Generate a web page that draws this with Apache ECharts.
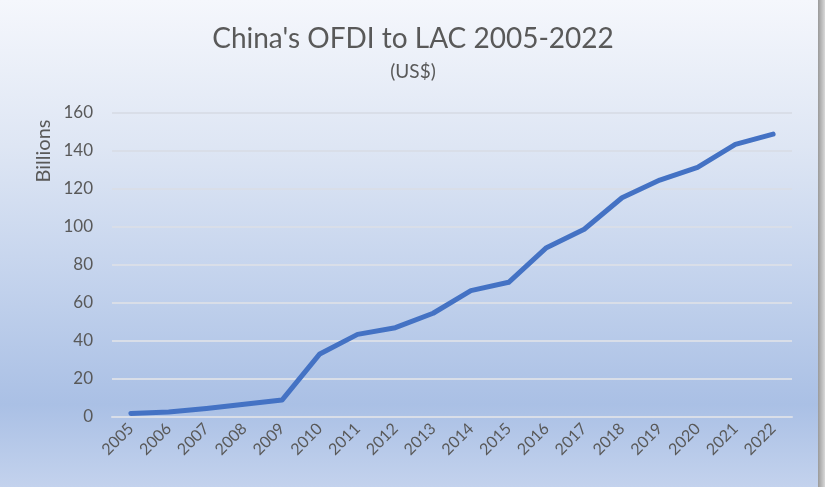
<!DOCTYPE html>
<html>
<head>
<meta charset="utf-8">
<script src="https://cdn.jsdelivr.net/npm/echarts@6/dist/echarts.min.js"></script>
<style>
  html, body { margin: 0; padding: 0; background: #ffffff; }
  #chart { width: 825px; height: 487px; }
</style>
</head>
<body>
<div id="chart"></div>
<script>
// Chinese outward FDI stock in Latin America & the Caribbean, US$ billions
var years = ['2005','2006','2007','2008','2009','2010','2011','2012','2013',
             '2014','2015','2016','2017','2018','2019','2020','2021','2022'];
var ofdiBillions = [1.9, 2.6, 4.5, 6.7, 8.9, 33.2, 43.5, 47.0, 54.6,
                    66.5, 70.9, 89.1, 98.8, 115.4, 124.7, 131.4, 143.5, 148.9];
var yTicks = { min: 0, max: 160, step: 20 };

var titleText = "China's OFDI to LAC 2005-2022";
var subtitleText = '(US$)';
var yAxisTitle = 'Billions';

var textColor = '#595959';
var fontFamily = 'Lato, "Open Sans", sans-serif';

var chart = echarts.init(document.getElementById('chart'), null, { renderer: 'canvas' });

chart.setOption({
  animation: false,
  graphic: [
    {
      type: 'rect', z: -10, silent: true,
      shape: { x: 0, y: 0, width: 818, height: 487 },
      style: {
        fill: new echarts.graphic.LinearGradient(0, 0, 0, 1, [
          { offset: 0.00, color: '#f5f7fc' },
          { offset: 0.30, color: '#dee6f4' },
          { offset: 0.60, color: '#c1d1ec' },
          { offset: 0.83, color: '#aac0e5' },
          { offset: 1.00, color: '#c3d2ed' }
        ])
      }
    },
    {
      type: 'rect', z: -10, silent: true,
      shape: { x: 818, y: 0, width: 7, height: 487 },
      style: {
        fill: new echarts.graphic.LinearGradient(0, 0, 1, 0, [
          { offset: 0, color: '#9a9a9a' },
          { offset: 1, color: '#d8d8d8' }
        ])
      }
    },
    {
      type: 'text', silent: true,
      x: 44, y: 151, rotation: Math.PI / 2,
      style: {
        text: yAxisTitle, fill: textColor,
        font: '20px ' + fontFamily,
        align: 'center', verticalAlign: 'middle'
      }
    }
  ],
  title: {
    text: titleText,
    subtext: subtitleText,
    left: 408, textAlign: 'center',
    top: 20,
    itemGap: 9,
    textStyle: { color: textColor, fontSize: 28, fontWeight: 'normal', fontFamily: fontFamily },
    subtextStyle: { color: textColor, fontSize: 19, fontFamily: fontFamily }
  },
  grid: { left: 112, right: 33, top: 113, bottom: 70, containLabel: false },
  xAxis: {
    type: 'category',
    data: years,
    boundaryGap: true,
    axisLine: { show: true, lineStyle: { color: '#d9dee8', width: 2 } },
    axisTick: { show: false },
    axisLabel: {
      rotate: 45, margin: 9, interval: 0,
      color: textColor, fontSize: 16, fontFamily: fontFamily
    }
  },
  yAxis: {
    type: 'value',
    min: yTicks.min, max: yTicks.max, interval: yTicks.step,
    axisLine: { show: false },
    axisTick: { show: false },
    axisLabel: { margin: 19, color: textColor, fontSize: 17, fontFamily: fontFamily },
    splitLine: { lineStyle: { color: '#d9dee8', width: 2 } }
  },
  series: [{
    type: 'line',
    data: ofdiBillions,
    showSymbol: false,
    symbol: 'none',
    lineStyle: { color: '#4472c4', width: 5, cap: 'round', join: 'round' }
  }]
});
</script>
</body>
</html>
